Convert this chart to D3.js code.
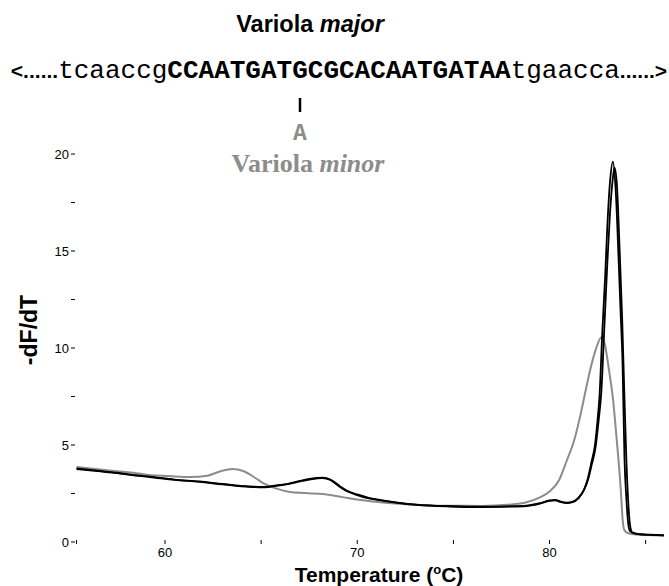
<!DOCTYPE html>
<html>
<head>
<meta charset="utf-8">
<script src="https://cdn.jsdelivr.net/npm/d3@7"></script>
<style>
  body { margin: 0; background: #fff; }
  svg { display: block; }
</style>
</head>
<body>
<div id="viz"></div>
<script>

/* melting curve chart, Variola major vs minor */

// Variola minor (grey) : temperature / -dF/dT
const minorTemp = [55.4, 56.5, 57.5, 58.5, 59.2, 60.2, 61.3, 62.2, 62.9, 63.5, 64.1, 64.7, 65.1, 65.8, 66.5, 67.3, 68.2, 69.3, 70.5, 71.8, 73.1, 74.8, 76.5, 77.8, 78.8, 79.5, 80.0, 80.5, 80.9, 81.3, 81.6, 81.9, 82.1, 82.4, 82.7, 82.9, 83.0, 83.15, 83.3, 83.45, 83.6, 83.72, 83.8, 83.9, 84.1, 84.5, 85.0, 85.95];
const minorVal  = [3.87, 3.75, 3.65, 3.55, 3.45, 3.40, 3.35, 3.42, 3.65, 3.76, 3.65, 3.30, 3.04, 2.75, 2.58, 2.52, 2.47, 2.30, 2.13, 2.00, 1.91, 1.87, 1.86, 1.92, 2.05, 2.30, 2.60, 3.20, 4.20, 5.30, 6.50, 7.90, 8.80, 9.90, 10.55, 10.10, 9.50, 8.50, 7.40, 5.80, 4.10, 2.50, 1.20, 0.60, 0.45, 0.38, 0.36, 0.34];

// Variola major, replicate 1 (black)
const major1Temp = [55.4, 56.5, 57.5, 58.5, 59.2, 60.5, 61.8, 63.0, 64.4, 65.2, 65.8, 66.4, 66.9, 67.5, 68.2, 68.6, 69.1, 69.5, 70.0, 70.6, 71.3, 72.2, 73.1, 74.8, 76.5, 77.8, 78.8, 79.5, 80.0, 80.3, 80.6, 80.9, 81.2, 81.5, 81.8, 82.0, 82.2, 82.35, 82.5, 82.6, 82.75, 82.9, 83.0, 83.15, 83.3, 83.45, 83.6, 83.7, 83.8, 83.9, 84.0, 84.1, 84.2, 84.5, 85.0, 85.5, 85.95];
const major1Val  = [3.76, 3.65, 3.55, 3.42, 3.35, 3.20, 3.10, 2.97, 2.84, 2.82, 2.90, 2.98, 3.10, 3.22, 3.30, 3.20, 2.84, 2.60, 2.42, 2.25, 2.13, 2.00, 1.91, 1.83, 1.80, 1.82, 1.85, 1.98, 2.12, 2.15, 2.05, 2.00, 2.05, 2.25, 2.70, 3.30, 4.20, 4.90, 6.30, 7.50, 10.90, 13.80, 16.10, 18.60, 19.60, 18.00, 14.40, 11.80, 9.20, 4.30, 2.20, 0.90, 0.55, 0.42, 0.38, 0.37, 0.34];

// Variola major, replicate 2 (black)
const major2Temp = [55.4, 56.5, 57.5, 58.5, 59.2, 60.5, 61.8, 63.0, 64.4, 65.2, 65.8, 66.4, 66.9, 67.5, 68.2, 68.6, 69.1, 69.5, 70.0, 70.6, 71.3, 72.2, 73.1, 74.8, 76.5, 77.8, 78.8, 79.5, 80.0, 80.3, 80.6, 80.9, 81.2, 81.5, 81.8, 82.0, 82.2, 82.4, 82.55, 82.7, 82.85, 83.0, 83.15, 83.3, 83.38, 83.5, 83.65, 83.78, 83.9, 84.0, 84.1, 84.2, 84.3, 84.6, 85.0, 85.5, 85.95];
const major2Val  = [3.80, 3.68, 3.57, 3.44, 3.37, 3.22, 3.12, 2.99, 2.86, 2.84, 2.92, 3.00, 3.12, 3.25, 3.32, 3.22, 2.88, 2.63, 2.45, 2.28, 2.15, 2.02, 1.93, 1.85, 1.82, 1.84, 1.88, 2.00, 2.14, 2.17, 2.08, 2.03, 2.08, 2.28, 2.70, 3.20, 4.00, 4.90, 6.20, 7.80, 11.00, 14.20, 17.00, 18.80, 19.30, 18.50, 15.00, 11.50, 7.40, 4.20, 2.00, 0.80, 0.50, 0.42, 0.38, 0.36, 0.34];

// axis ticks
const xTicks = [60, 65, 70, 75, 80, 85];
const xTickLabels = ["60", "", "70", "", "80", ""];
const yTicks = [0, 2.5, 5, 7.5, 10, 12.5, 15, 17.5, 20];
const yTickLabels = ["0", "", "5", "", "10", "", "15", "", "20"];

// sequence pieces
const seqLeft = "<......";
const seqFlank5 = "tcaaccg";
const seqProbe = "CCAATGATGCGCACAATGATAA";
const seqFlank3 = "tgaacca";
const seqRight = "......>";
const snpIndex = 8;          // position of the G>A change inside the probe
const snpBase = "A";

const W = 669, H = 586;
const GREY = "#8c8c8c";
const SANS = "Arial, 'Liberation Sans', Helvetica, sans-serif";
const MONO = "'Courier New', 'Liberation Mono', monospace";
const SERIF = "'Times New Roman', 'Liberation Serif', serif";

const svg = d3.select("#viz").append("svg")
    .attr("width", W)
    .attr("height", H);

svg.append("rect").attr("width", W).attr("height", H).attr("fill", "#fff");

// scales (x domain starts where the data starts)
const x = d3.scaleLinear([60, 80], [165, 549.5]);
const y = d3.scaleLinear([0, 20], [542, 154]);
const xMin = minorTemp[0];

// ---- header text ----

let title = svg.append("text")
    .attr("x", 310).attr("y", 32)
    .attr("text-anchor", "middle")
    .attr("font-family", SANS).attr("font-weight", "bold").attr("font-size", 23.5)
    .attr("fill", "#000");
title.append("tspan").text("Variola ");
title.append("tspan").attr("font-style", "italic").text("major");

let seq = svg.append("text")
    .attr("x", 339).attr("y", 78)
    .attr("text-anchor", "middle")
    .attr("fill", "#000");
seq.append("tspan").attr("font-family", SANS).attr("font-weight", "bold").attr("font-size", 21).text(seqLeft);
seq.append("tspan").attr("font-family", MONO).attr("font-size", 26).text(seqFlank5);
seq.append("tspan").attr("font-family", MONO).attr("font-weight", "bold").attr("font-size", 26).text(seqProbe);
seq.append("tspan").attr("font-family", MONO).attr("font-size", 26).text(seqFlank3);
seq.append("tspan").attr("font-family", SANS).attr("font-weight", "bold").attr("font-size", 21).text(seqRight);

// locate the mutated base inside the sequence line
let ci = seqLeft.length + seqFlank5.length + snpIndex;
let node = seq.node();
let snpX = 300;
try {
    snpX = (node.getStartPositionOfChar(ci).x + node.getEndPositionOfChar(ci).x) / 2;
} catch (e) { /* keep fallback */ }

svg.append("line")
    .attr("x1", snpX).attr("x2", snpX)
    .attr("y1", 98).attr("y2", 112)
    .attr("stroke", "#000").attr("stroke-width", 2.5);

svg.append("text")
    .attr("x", snpX).attr("y", 140)
    .attr("text-anchor", "middle")
    .attr("font-family", MONO).attr("font-weight", "bold").attr("font-size", 23)
    .attr("fill", GREY)
    .text(snpBase);

let minorLabel = svg.append("text")
    .attr("x", 308).attr("y", 172)
    .attr("text-anchor", "middle")
    .attr("font-family", SERIF).attr("font-weight", "bold").attr("font-size", 26)
    .attr("fill", GREY);
minorLabel.append("tspan").text("Variola ");
minorLabel.append("tspan").attr("font-style", "italic").text("minor");

// ---- axes (no domain line, only short ticks) ----

// y ticks
let yAxis = svg.append("g").attr("font-family", SANS).attr("font-size", 13);
yAxis.selectAll("line").data(yTicks).join("line")
    .attr("x1", 71).attr("x2", 75)
    .attr("y1", d => y(d)).attr("y2", d => y(d))
    .attr("stroke", "#000").attr("stroke-width", 1);
yAxis.selectAll("text").data(yTicks).join("text")
    .attr("x", 69).attr("y", d => y(d))
    .attr("dy", "0.35em")
    .attr("text-anchor", "end")
    .attr("fill", "#000")
    .text((d, i) => yTickLabels[i]);

// x ticks
let xAxis = svg.append("g").attr("font-family", SANS).attr("font-size", 13);
xAxis.selectAll("line").data([xMin].concat(xTicks)).join("line")
    .attr("x1", d => x(d)).attr("x2", d => x(d))
    .attr("y1", 540).attr("y2", 544)
    .attr("stroke", "#000").attr("stroke-width", 1);
xAxis.selectAll("text").data(xTicks).join("text")
    .attr("x", d => x(d)).attr("y", 557)
    .attr("text-anchor", "middle")
    .attr("fill", "#000")
    .text((d, i) => xTickLabels[i]);

// axis titles
let xTitle = svg.append("text")
    .attr("x", 379).attr("y", 582)
    .attr("text-anchor", "middle")
    .attr("font-family", SANS).attr("font-weight", "bold").attr("font-size", 21)
    .attr("fill", "#000");
xTitle.append("tspan").text("Temperature (");
xTitle.append("tspan").attr("font-size", 13).attr("dy", -8).text("o");
xTitle.append("tspan").attr("dy", 8).text("C)");

svg.append("text")
    .attr("transform", "translate(37,330) rotate(-90)")
    .attr("text-anchor", "middle")
    .attr("font-family", SANS).attr("font-weight", "bold").attr("font-size", 23)
    .attr("fill", "#000")
    .text("-dF/dT");

// ---- curves ----

const line = d3.line()
    .x(d => x(d[0]))
    .y(d => y(d[1]))
    .curve(d3.curveMonotoneX);

function draw_curve(temps, vals, colour, width){
    let pts = d3.zip(temps, vals);
    svg.append("path")
        .datum(pts)
        .attr("d", line)
        .attr("fill", "none")
        .attr("stroke", colour)
        .attr("stroke-width", width)
        .attr("stroke-linejoin", "round");
}

draw_curve(minorTemp, minorVal, GREY, 2);
draw_curve(major1Temp, major1Val, "#000", 1.8);
draw_curve(major2Temp, major2Val, "#000", 1.8);

</script>
</body>
</html>
